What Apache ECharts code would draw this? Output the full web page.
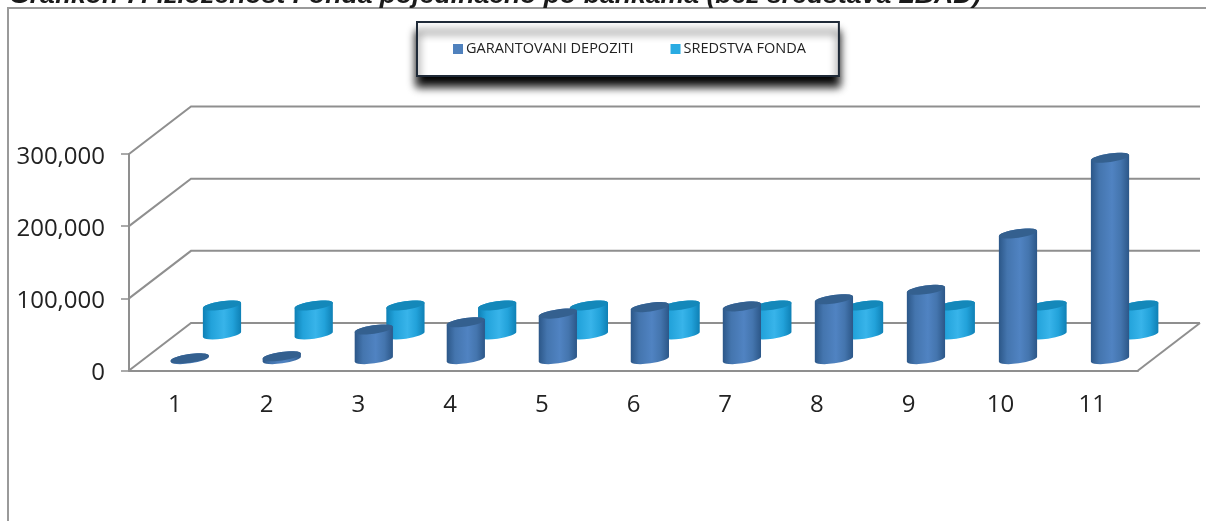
<!DOCTYPE html>
<html><head><meta charset="utf-8">
<style>html,body{margin:0;padding:0;background:#fff}#c{width:1206px;height:521px}</style>
<script src="https://cdn.jsdelivr.net/npm/echarts@6/dist/echarts.min.js"></script>
</head><body><div id="c"></div>
<script>
const titleText = 'Grafikon 7: Izloženost Fonda pojedinačno po bankama (bez sredstava LBAD)';
const categories = ['1','2','3','4','5','6','7','8','9','10','11'];
const garantovaniDepoziti = [1000,4000,41000,51000,63000,72000,73000,83000,96000,174000,279000];
const sredstvaFonda = [40000,40000,40000,40000,40000,40000,40000,40000,40000,40000,40000];
const yTicks = [0,100000,200000,300000];

const AXIS = '#8f8f8f', DEPTH_X = 62, DEPTH_Y = 47.5, R = 19.3, TILT = 8, RY = 4.3;
const sinT = Math.sin(TILT*Math.PI/180), cosT = Math.cos(TILT*Math.PI/180);

function cylinder(fr, drift, edge, mid, light, top) {
  return function (params, api) {
    const p0 = api.coord([api.value(0), 0]);
    const p1 = api.coord([api.value(0), api.value(1)]);
    const cx = p0[0] + fr*DEPTH_X + drift*params.dataIndex, by = p0[1] - fr*DEPTH_Y, ty = p1[1] - fr*DEPTH_Y;
    const lx = cx - R*cosT, rx = cx + R*cosT, dy = R*sinT;
    const arc = `A${R} ${RY} ${-TILT} 0 0`;
    const body = `M${lx} ${ty+dy}L${lx} ${by+dy}${arc} ${rx} ${by-dy}L${rx} ${ty-dy}${arc} ${lx} ${ty+dy}Z`;
    return { type:'group', children:[
      { type:'path', shape:{pathData:body},
        style:{ fill:{type:'linear',x:0,y:0,x2:1,y2:0,colorStops:[
          {offset:0,color:edge},{offset:.22,color:mid},{offset:.55,color:light},{offset:.78,color:mid},{offset:1,color:edge}]}, stroke:null}},
      { type:'ellipse', shape:{cx:cx, cy:ty, rx:R, ry:RY}, rotation:TILT*Math.PI/180, originX:cx, originY:ty,
        style:{fill:top, stroke:null}}
    ]};
  };
}

const option = {
  animation:false,
  backgroundColor:'#fff',
  title:{ text:titleText, left:9, top:-18, padding:0,
    textStyle:{fontFamily:'Liberation Sans',fontWeight:'bold',fontStyle:'italic',fontSize:26.6,color:'#1a1a1a'}},
  legend:{ data:['GARANTOVANI DEPOZITI','SREDSTVA FONDA'], left:417, top:22, orient:'horizontal',
    padding:[19.5,33,19.5,36], itemWidth:10, itemHeight:10, itemGap:37, icon:'rect',
    backgroundColor:'#fff', borderColor:'#1f2a38', borderWidth:2,
    shadowColor:'rgba(0,0,0,0.98)', shadowBlur:8, shadowOffsetX:0, shadowOffsetY:10,
    textStyle:{fontFamily:'Open Sans',fontSize:14.5,color:'#222',padding:[0,0,0,-2]}},
  grid:{ left:129, right:68, top:154, bottom:150.5 },
  xAxis:{ type:'category', data:categories, boundaryGap:true,
    axisLine:{lineStyle:{color:AXIS,width:2}}, axisTick:{length:7,lineStyle:{color:AXIS,width:1.5}},
    axisLabel:{fontFamily:'Open Sans',fontSize:24,color:'#222',margin:23}},
  yAxis:{ type:'value', min:0, max:300000, interval:100000, splitLine:{show:false},
    axisLine:{show:true,lineStyle:{color:AXIS,width:2}}, axisTick:{show:true,length:8,lineStyle:{color:AXIS,width:1.5}},
    axisLabel:{fontFamily:'Open Sans',fontSize:24,color:'#222',margin:24,verticalAlign:'top',lineHeight:6,
      formatter:v=>v.toLocaleString('en-US')}},
  graphic:[{ type:'polyline', shape:{points:[[8,521],[8,8],[1206,8]]}, style:{stroke:'#9a9a9a',lineWidth:2,fill:null}, silent:true }],
  series:[
    { name:'walls', type:'custom', coordinateSystem:'cartesian2d', z:1, silent:true, clip:false,
      data:yTicks.map(v=>[0,v]), encode:{x:0,y:1},
      renderItem:(params,api)=>{
        const p = api.coord([0,api.value(1)]), g = params.coordSys;
        const x0 = g.x, y = p[1];
        const pts = [[x0,y],[x0+DEPTH_X,y-DEPTH_Y],[x0+g.width+DEPTH_X,y-DEPTH_Y]];
        const children = [{type:'polyline',shape:{points:pts},style:{stroke:AXIS,lineWidth:2,fill:null}}];
        if (api.value(1)===0) children.push({type:'line',shape:{x1:x0+g.width,y1:y,x2:x0+g.width+DEPTH_X,y2:y-DEPTH_Y},style:{stroke:AXIS,lineWidth:2}});
        return {type:'group',children};
      }},
    { name:'SREDSTVA FONDA', type:'custom', coordinateSystem:'cartesian2d', z:2, clip:false,
      itemStyle:{color:'#29abe2'}, data:sredstvaFonda.map((v,i)=>[i,v]), encode:{x:0,y:1},
      renderItem:cylinder(0.76,0,'#0e7fb4','#22a2da','#38b4ea','#1488ba')},
    { name:'GARANTOVANI DEPOZITI', type:'custom', coordinateSystem:'cartesian2d', z:3, clip:false,
      itemStyle:{color:'#4f81bd'}, data:garantovaniDepoziti.map((v,i)=>[i,v]), encode:{x:0,y:1},
      renderItem:cylinder(0.24,0.3,'#2b5687','#4475ae','#5083c2','#34608f')}
  ]
};
echarts.init(document.getElementById('c'),null,{renderer:'canvas'}).setOption(option);
</script></body></html>
